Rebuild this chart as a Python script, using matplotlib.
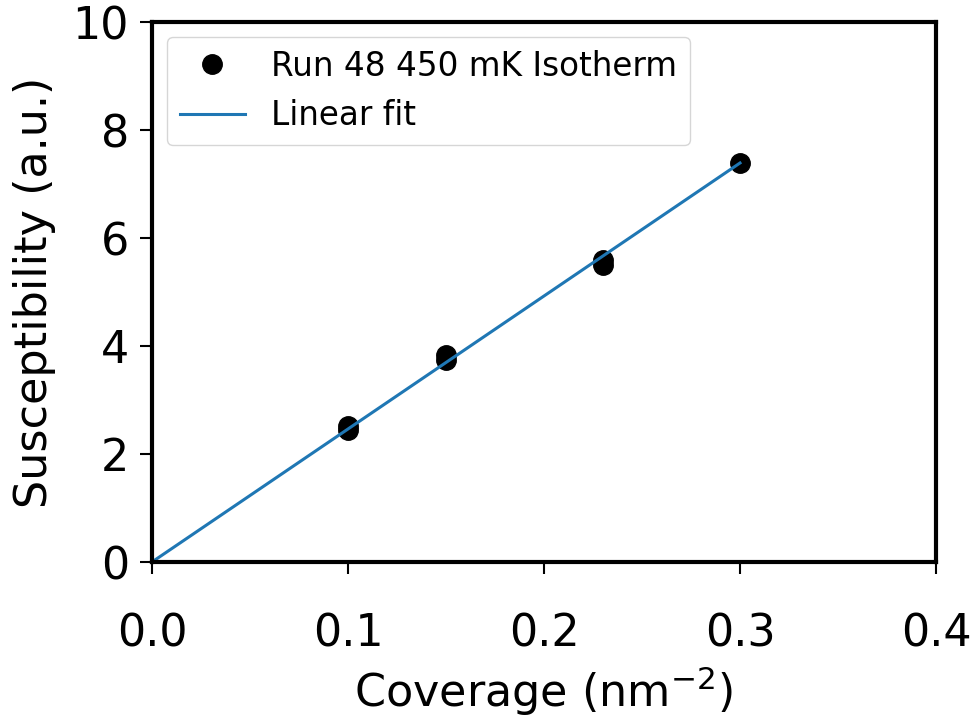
import numpy as np
import matplotlib
matplotlib.use("Agg")
import matplotlib.pyplot as plt

# data
coverage = [0.10, 0.10, 0.15, 0.15, 0.23, 0.23, 0.30]
suscept = [2.45, 2.52, 3.74, 3.83, 5.50, 5.60, 7.39]

fit_x = np.array([0.0, 0.30])
slope = 24.63
fit_y = slope * fit_x

plt.rcParams["font.size"] = 32
fig = plt.figure(figsize=(9.8, 7.2), dpi=100)
ax = fig.add_axes([152 / 980, 1 - 562 / 720, 784 / 980, 540 / 720])

ax.plot(coverage, suscept, "o", color="black", markersize=14, label="Run 48 450 mK Isotherm")
ax.plot(fit_x, fit_y, color="#1f77b4", linewidth=2.2, label="Linear fit")

ax.set_xlim(0, 0.4)
ax.set_ylim(0, 10)
ax.set_xticks([0.0, 0.1, 0.2, 0.3, 0.4])
ax.set_yticks([0, 2, 4, 6, 8, 10])
ax.set_xlabel("Coverage (nm$^{-2}$)", labelpad=6)
ax.set_ylabel("Susceptibility (a.u.)", labelpad=12)
for s in ax.spines.values():
    s.set_linewidth(3)
ax.tick_params(width=1.5, length=8.5)
ax.tick_params(axis="x", pad=28)
ax.tick_params(axis="y", pad=8)
ax.legend(loc="upper left", fontsize=23.5, borderaxespad=0.45)

fig.savefig("out.png", dpi=100)
